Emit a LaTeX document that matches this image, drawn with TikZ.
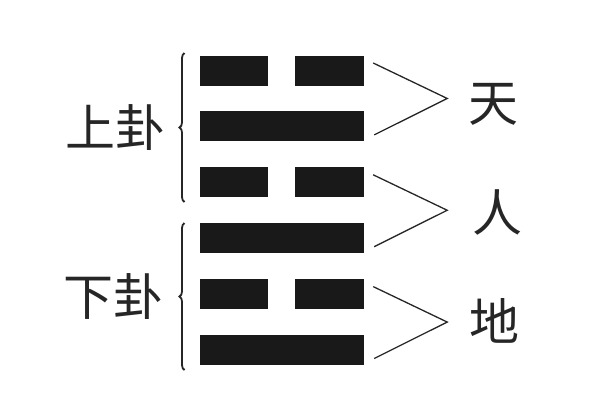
\documentclass[tikz,border=0pt]{standalone}
\usepackage{fontspec}
\newfontfamily\cjk{Noto Sans CJK SC}
\usetikzlibrary{calc,decorations.pathreplacing}

\begin{document}
\begin{tikzpicture}[x=1pt,y=-1pt,
        yao/.style={fill=black!90,inner sep=0pt,minimum height=30pt},
        word/.style={font=\cjk\fontsize{50}{60}\selectfont,text=black!85,inner sep=0pt},
        fork/.style={draw=black!85,line width=1.3pt},
        bracket/.style={draw=black!85,line width=1.8pt,decorate,decoration={brace,amplitude=5pt}}]
    \useasboundingbox (0,0) rectangle (600,400);

    % six lines, top to bottom (1 = solid, 0 = broken)
    \foreach \t [count=\i] in {0,1,0,1,0,1} {
        \pgfmathsetmacro{\yc}{70.5+55.9*(\i-1)}
        \ifnum\t=1
            \node[yao,minimum width=164pt] (bar\i) at (282,\yc) {};
        \else
            \node[yao,minimum width=68pt] (bar\i l) at (234,\yc) {};
            \node[yao,minimum width=69pt] (bar\i) at (329.5,\yc) {};
        \fi
    }

    % the three pairs point to heaven, man, earth
    \foreach \a/\b [count=\k] in {1/2,3/4,5/6} {
        \coordinate (tip\k) at ($(bar\a.east)!0.5!(bar\b.east)+(83,0)$);
        \draw[fork] ($(bar\a.east)+(9,-7.5)$) -- (tip\k) -- ($(bar\b.east)+(10,8.5)$);
    }
    \node[word] (tian) at (493,104) {天};
    \node[word] (ren) at (497,212) {人};
    \node[word] (di) at (494,321) {地};

    % upper and lower trigrams
    \draw[bracket] (184.5,202) -- (184.5,53);
    \draw[bracket] (184.5,370) -- (184.5,223);
    \node[word] (shang) at (115,128) {上卦};
    \node[word] (xia) at (113,297) {下卦};
\end{tikzpicture}
\end{document}
